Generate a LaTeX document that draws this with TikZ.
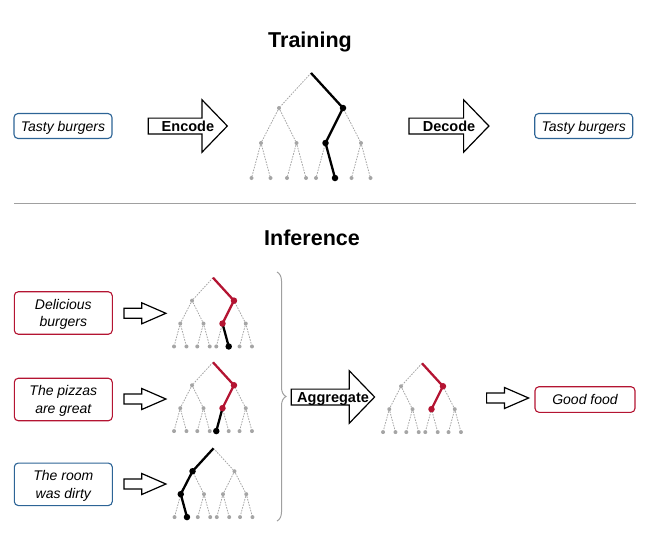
\documentclass[tikz,border=0pt]{standalone}
\usepackage{fontspec}
\setmainfont{Liberation Sans}
\usetikzlibrary{shapes.arrows,decorations.pathreplacing,calc}

\definecolor{pathred}{RGB}{180,20,50}
\definecolor{boxblue}{RGB}{45,100,150}
\definecolor{treegray}{RGB}{165,165,165}
\definecolor{linegray}{RGB}{160,160,160}

\tikzset{
  treeedge/.style={treegray, line width=0.8pt, dash pattern=on 1.6pt off 1.2pt},
  treedot/.style={circle, fill=treegray, inner sep=0pt, minimum size=4pt},
  bigdot/.style={circle, fill=#1, inner sep=0pt, minimum size=6.5pt},
  pathline/.style={draw=#1, line width=2.3pt, line join=round},
  box/.style={draw, rounded corners=4pt, line width=1.1pt, fill=white, align=center,
    inner sep=0pt, minimum width=98pt, text depth=0pt,
    font=\itshape\fontsize{14}{17.5}\selectfont},
  redbox/.style={box, draw=pathred},
  bluebox/.style={box, draw=boxblue},
  bigarrow/.style={single arrow, draw, fill=white, line width=1.2pt, inner sep=0pt,
    text height=12.6pt, text depth=2pt, single arrow head extend=18.3pt,
    single arrow tip angle=92},
  smallarrow/.style={single arrow, draw, fill=white, line width=1.2pt, inner sep=0pt,
    text height=8.8pt, text depth=0pt, single arrow head extend=5.5pt,
    single arrow tip angle=47, minimum height=42pt},
  arrowtext/.style={font=\bfseries\fontsize{14.5}{17}\selectfont, inner sep=0pt,
    text height=10pt, text depth=0pt},
  titletext/.style={font=\bfseries\fontsize{21.5}{24}\selectfont, inner sep=0pt},
  tree/.pic={
    \coordinate (-r) at (0,0);
    \foreach \n/\x in {a/-32,b/32} \node[treedot] (-\n) at (\x,35) {};
    \foreach \n/\x in {a1/-50,a2/-14.5,b1/14.5,b2/50} \node[treedot] (-\n) at (\x,70) {};
    \foreach \n/\x in {a11/-59.5,a12/-40.5,a21/-24,a22/-5,b11/5,b12/24,b21/40.5,b22/59.5}
      \node[treedot] (-\n) at (\x,105) {};
    \foreach \p/\c in {r/a,r/b,a/a1,a/a2,b/b1,b/b2,a1/a11,a1/a12,a2/a21,a2/a22,b1/b11,b1/b12,b2/b21,b2/b22}
      \draw[treeedge] (-\p) -- (-\c);
  },
}

\begin{document}
\begin{tikzpicture}[x=1pt,y=-1pt]

\useasboundingbox (0,0) rectangle (650,539);

% Training
\node[titletext, anchor=base] (traintitle) at (310,47) {Training};

\node[bluebox, minimum height=25pt] (tastyin) at (63,126) {Tasty burgers}; % Input
\node[bigarrow, anchor=tail, minimum height=79pt] (encode) at (147.7,126) {};
\node[arrowtext] (encodetext) at ($(encode.tail)!0.5!(encode.tip)$) {Encode};

\pic[shift={(311,73)}] (t0) {tree}; % Code tree
\draw[pathline=black] (t0-r) -- (t0-b.center) -- (t0-b1.center) -- (t0-b12.center);
\foreach \n in {b,b1,b12} \node[bigdot=black] at (t0-\n) {};

\node[bigarrow, anchor=tail, minimum height=80pt] (decode) at (408.3,126) {};
\node[arrowtext] (decodetext) at ($(decode.tail)!0.5!(decode.tip)$) {Decode};
\node[bluebox, minimum height=25pt] (tastyout) at (583.7,126) {Tasty burgers}; % Output

% Separator
\coordinate (sepl) at (14,203);
\coordinate (sepr) at (636,203);
\draw[linegray, line width=0.9pt] (sepl) -- (sepr);

% Inference
\node[titletext, anchor=base] (infertitle) at (312,245) {Inference};

\node[redbox, minimum height=42.5pt] (deli) at (63.3,313) {Delicious\\burgers};
\node[redbox, minimum height=42.5pt] (pizza) at (63.3,399.5) {The pizzas\\are great};
\node[bluebox, minimum height=42.5pt] (room) at (63.3,484.3) {The room\\was dirty};

\node[smallarrow, anchor=tail] (ar1) at (123.3,313.3) {};
\node[smallarrow, anchor=tail] (ar2) at (123.3,399) {};
\node[smallarrow, anchor=tail] (ar3) at (123.3,484) {};

% Tree for each sentence
\pic[shift={(213,277.7)}, scale=0.655] (t1) {tree};
\draw[pathline=pathred] (t1-r) -- (t1-b.center) -- (t1-b1.center);
\draw[pathline=black] (t1-b1.center) -- (t1-b12.center);
\foreach \n in {b,b1} \node[bigdot=pathred] at (t1-\n) {};
\node[bigdot=black] at (t1-b12) {};

\pic[shift={(213,362.3)}, scale=0.655] (t2) {tree};
\draw[pathline=pathred] (t2-r) -- (t2-b.center) -- (t2-b1.center);
\draw[pathline=black] (t2-b1.center) -- (t2-b11.center);
\foreach \n in {b,b1} \node[bigdot=pathred] at (t2-\n) {};
\node[bigdot=black] at (t2-b11) {};

\pic[shift={(213.5,448.3)}, scale=0.655] (t3) {tree};
\draw[pathline=black] (t3-r) -- (t3-a.center) -- (t3-a1.center) -- (t3-a12.center);
\foreach \n in {a,a1,a12} \node[bigdot=black] at (t3-\n) {};

% Brace
\coordinate (bracetop) at (277,272);
\coordinate (bracebot) at (277,521);
\draw[linegray, line width=1pt, decorate, decoration={brace, amplitude=9pt}] (bracetop) -- (bracebot);

\node[bigarrow, anchor=tail, minimum height=83.3pt] (aggr) at (290.7,397) {};
\node[arrowtext] (aggrtext) at ($(aggr.tail)!0.5!(aggr.tip)$) {Aggregate};

\pic[shift={(422,363.3)}, scale=0.655] (t4) {tree}; % Aggregated tree
\draw[pathline=pathred] (t4-r) -- (t4-b.center) -- (t4-b1.center);
\foreach \n in {b,b1} \node[bigdot=pathred] at (t4-\n) {};

\node[smallarrow, anchor=tail] (ar4) at (486,398) {};
\node[redbox, minimum height=25.6pt, minimum width=100pt] (good) at (585,399.5) {Good food};

\end{tikzpicture}
\end{document}
